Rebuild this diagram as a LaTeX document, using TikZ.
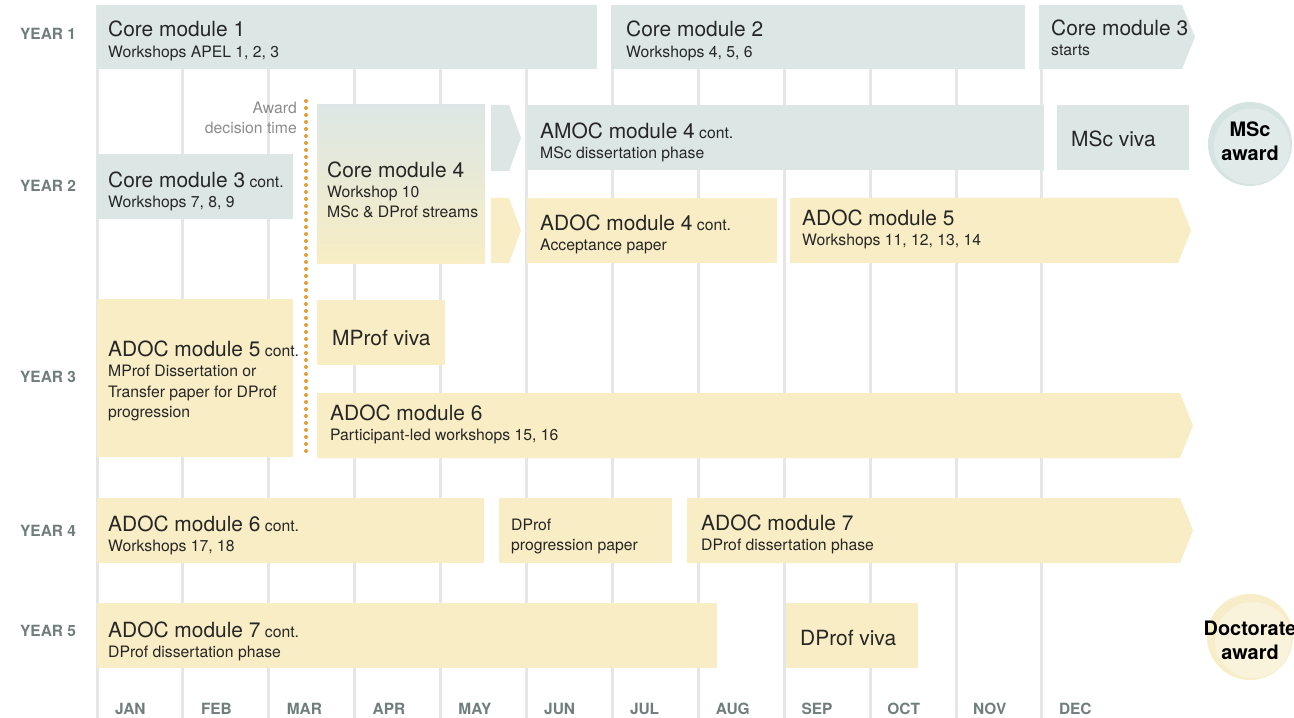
\documentclass[tikz,border=0pt]{standalone}
\usepackage{fontspec}
\setmainfont{TeX Gyre Heros}
\definecolor{bluebox}{HTML}{DCE7E5}
\definecolor{yelbox}{HTML}{F8EDC4}
\definecolor{gridc}{HTML}{E6E6E6}
\definecolor{labc}{HTML}{6F7E7C}
\definecolor{txtc}{HTML}{262626}
\definecolor{dotc}{HTML}{E0A036}
\definecolor{mscout}{HTML}{D5E4E1}
\definecolor{mscin}{HTML}{E0EBE9}
\definecolor{docout}{HTML}{F7EDC8}
\definecolor{docin}{HTML}{FAF3DC}
\newcommand{\modtitle}[1]{{\fontsize{21}{20}\selectfont #1}}
% name, x1, y1, x2, y2, fill, text x, text dy, text
\newcommand{\modbox}[9]{%
  \path[fill=#6] (#2,#3) rectangle (#4,#5);
  \node[modtxt] (#1) at (#7,{(#3+#5)/2+1+#8}) {#9};}
\newcommand{\modarrow}[9]{%
  \path[fill=#6] (#2,#3) -- (#4,#3) -- ({#4+13},{(#3+#5)/2}) -- (#4,#5) -- (#2,#5) -- cycle;
  \node[modtxt] (#1) at (#7,{(#3+#5)/2+1+#8}) {#9};}
\begin{document}
\begin{tikzpicture}[x=1bp,y=-1bp,
  modtxt/.style={anchor=west,align=left,inner sep=0pt,text=txtc,font=\fontsize{15.8}{20.3}\selectfont},
  yearlab/.style={anchor=west,inner sep=0pt,text=labc,font=\fontsize{15.5}{18}\selectfont\bfseries},
  monthlab/.style={anchor=base west,inner sep=0pt,text=labc,font=\fontsize{15.5}{18}\selectfont\bfseries},
  gridline/.style={draw=gridc,line width=3bp},
  awardtxt/.style={align=center,inner sep=0pt,text=black,font=\fontsize{20}{24}\selectfont\bfseries}]
\useasboundingbox (0,0) rectangle (1294,718);
\fill[white] (0,0) rectangle (1294,718);
% grid
\foreach \k in {0,...,11} {
  \draw[gridline] ({97+85.9*\k},5) -- ({97+85.9*\k},718);
}
% year labels
\node[yearlab] (y1) at (20,34) {YEAR 1};
\node[yearlab] (y2) at (20,186) {YEAR 2};
\node[yearlab] (y3) at (20,377) {YEAR 3};
\node[yearlab] (y4) at (20,531) {YEAR 4};
\node[yearlab] (y5) at (20,631) {YEAR 5};
% months
\foreach \m [count=\i from 0] in {JAN,FEB,MAR,APR,MAY,JUN,JUL,AUG,SEP,OCT,NOV,DEC} {
  \node[monthlab] (m\i) at ({115+85.8*\i},714) {\m};
}
% year 1
\modbox{cm1}{97}{5}{597}{69}{bluebox}{108}{3}{\modtitle{Core module 1}\\Workshops APEL 1, 2, 3}
\modbox{cm2}{611}{5}{1025}{69}{bluebox}{626}{3}{\modtitle{Core module 2}\\Workshops 4, 5, 6}
\modarrow{cm3}{1039}{5}{1182}{69}{bluebox}{1051}{0}{\modtitle{Core module 3}\\starts}
% award decision
\node[anchor=east,align=right,inner sep=0pt,text=black!45,font=\fontsize{15.8}{20}\selectfont] (adt) at (297,118) {Award\\decision time};
\coordinate (dtop) at (306,101);
\coordinate (dbot) at (306,455);
\draw[dotc,line width=4bp,line cap=round,dash pattern=on 0bp off 7bp] (dtop) -- (dbot);
% year 2
\modbox{cm3c}{97}{154}{293}{219}{bluebox}{108}{4}{\modtitle{Core module 3} cont.\\Workshops 7, 8, 9}
\path[top color=bluebox,bottom color=yelbox] (317,105) rectangle (485,263);
\node[modtxt] (cm4) at (327,{184+6}) {\modtitle{Core module 4}\\Workshop 10\\MSc \& DProf streams};
\path[fill=bluebox] (491,105) -- (509,105) -- (521,138) -- (509,171) -- (491,171) -- cycle;
\path[fill=yelbox] (491,198) -- (509,198) -- (521,230.5) -- (509,263) -- (491,263) -- cycle;
\modbox{amoc}{527}{105}{1044}{170}{bluebox}{540}{4}{\modtitle{AMOC module 4} cont.\\MSc dissertation phase}
\modbox{mscviva}{1057}{105}{1189}{170}{bluebox}{1071}{0}{\modtitle{MSc viva}}
\modbox{adoc4}{527}{198}{777}{263}{yelbox}{540}{3}{\modtitle{ADOC module 4} cont.\\Acceptance paper}
\modarrow{adoc5}{790}{198}{1178}{263}{yelbox}{802}{-2}{\modtitle{ADOC module 5}\\Workshops 11, 12, 13, 14}
% MSc award
\fill[mscout] (1250,144) circle (42);
\fill[mscin] (1252,146.5) circle (38);
\node[awardtxt] (mscaward) at (1250,141) {MSc\\award};
% year 3
\modbox{adoc5c}{97}{299}{293}{457}{yelbox}{108}{2}{\modtitle{ADOC module 5} cont.\\MProf Dissertation or\\Transfer paper for DProf\\progression}
\modbox{mprof}{317}{300}{445}{365}{yelbox}{332}{4}{\modtitle{MProf viva}}
\modarrow{adoc6}{317}{393}{1180}{458}{yelbox}{330}{-2}{\modtitle{ADOC module 6}\\Participant-led workshops 15, 16}
% year 4
\modbox{adoc6c}{97}{498}{484}{563}{yelbox}{108}{4}{\modtitle{ADOC module 6} cont.\\Workshops 17, 18}
\modbox{dprofpp}{499}{498}{672}{563}{yelbox}{511}{5}{DProf\\progression paper}
\modarrow{adoc7}{687}{498}{1180}{563}{yelbox}{701}{3}{\modtitle{ADOC module 7}\\DProf dissertation phase}
% year 5
\modbox{adoc7c}{97}{603}{717}{668}{yelbox}{108}{5}{\modtitle{ADOC module 7} cont.\\DProf dissertation phase}
\modbox{dprofviva}{786}{603}{918}{668}{yelbox}{800}{1}{\modtitle{DProf viva}}
% Doctorate award
\fill[docout] (1250,637) circle (43);
\fill[docin] (1253,640) circle (38);
\node[awardtxt] (docaward) at (1250,640) {Doctorate\\award};
\end{tikzpicture}
\end{document}
